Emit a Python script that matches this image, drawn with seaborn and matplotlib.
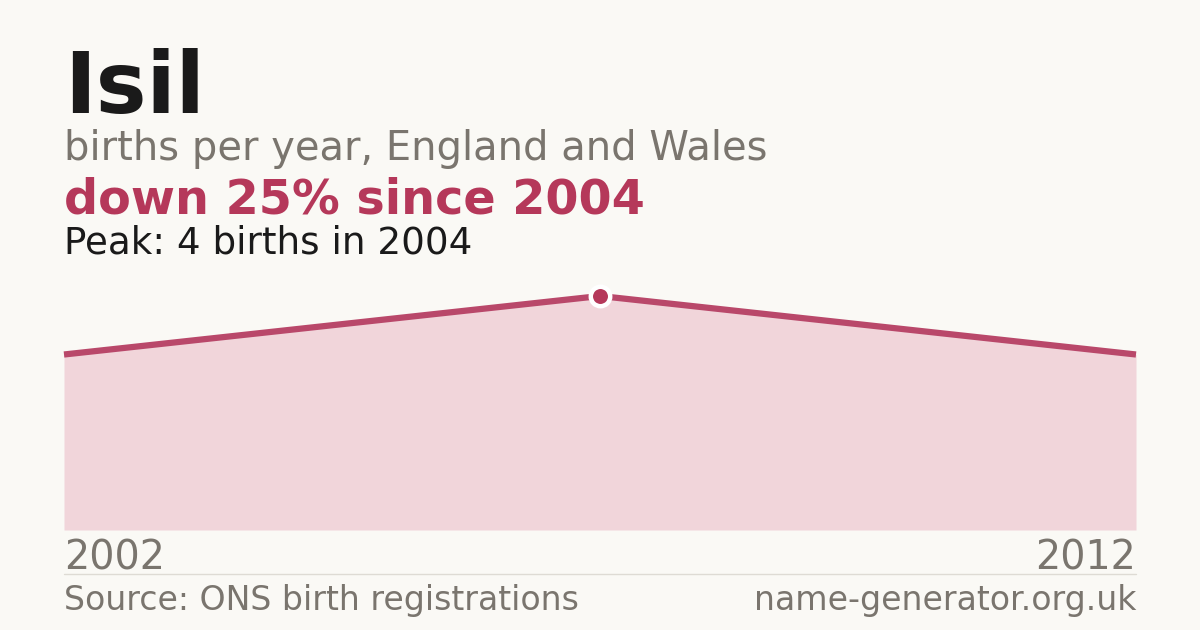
import numpy as np
import pandas as pd
import matplotlib
matplotlib.use("Agg")
import matplotlib.pyplot as plt
import seaborn as sns

# data
years = [2002, 2004, 2012]
births = [3, 4, 3]
name = "Isil"
subtitle = "births per year, England and Wales"
headline = "down 25% since 2004"
peak_note = "Peak: 4 births in 2004"
source = "Source: ONS birth registrations"
site = "name-generator.org.uk"

BG = "#faf9f5"
ACCENT = "#b5385a"
LINE = "#b9486a"
FILL = "#f1d5da"
GREY = "#7a756e"
INK = "#1a1a1a"

sns.set_theme(style="white")
plt.rcParams["font.family"] = ["DejaVu Sans"]

df = pd.DataFrame({"year": years, "births": births})
df["pos"] = np.arange(len(df))

fig = plt.figure(figsize=(12, 6.3), dpi=100, facecolor=BG)
ax = fig.add_axes([64 / 1200, 100 / 630, 1072 / 1200, 234 / 630])
ax.set_facecolor(BG)

ax.fill_between(df["pos"], df["births"], 0, color=FILL, lw=0)
sns.lineplot(data=df, x="pos", y="births", ax=ax, color=LINE, lw=4.5,
             solid_capstyle="butt", clip_on=False)
peak = df.loc[df["births"].idxmax()]
ax.plot(peak["pos"], peak["births"], "o", ms=14, mfc=ACCENT, mec="white",
        mew=3.2, clip_on=False, zorder=5)

ax.set_xlim(df["pos"].min(), df["pos"].max())
ax.set_ylim(0, df["births"].max())
ax.set_xticks([])
ax.set_yticks([])
ax.set_xlabel("")
ax.set_ylabel("")
sns.despine(ax=ax, left=True, bottom=True)

# header text
fig.text(64 / 1200, 1 - 113 / 630, name, fontsize=61.5, fontweight="bold",
         color=INK, va="baseline")
fig.text(64 / 1200, 1 - 160 / 630, subtitle, fontsize=28.8, color=GREY,
         va="baseline")
fig.text(64 / 1200, 1 - 214 / 630, headline, fontsize=34.4, fontweight="bold",
         color=ACCENT, va="baseline")
fig.text(64 / 1200, 1 - 253 / 630, peak_note, fontsize=26.8, color=INK,
         va="baseline")

# year labels at the ends
fig.text(64 / 1200, 1 - 570 / 630, str(years[0]), fontsize=28.5, color=GREY,
         va="baseline", ha="left")
fig.text(1136 / 1200, 1 - 570 / 630, str(years[-1]), fontsize=28.5,
         color=GREY, va="baseline", ha="right")

# separator and footer
fig.add_artist(plt.Line2D([64 / 1200, 1136 / 1200], [1 - 574 / 630] * 2,
                          color="#dedbd4", lw=1))
fig.text(64 / 1200, 1 - 610 / 630, source, fontsize=23.9, color=GREY,
         va="baseline")
fig.text(1136 / 1200, 1 - 610 / 630, site, fontsize=23.9, color=GREY,
         va="baseline", ha="right")

fig.savefig("out.png", dpi=100, facecolor=BG)
